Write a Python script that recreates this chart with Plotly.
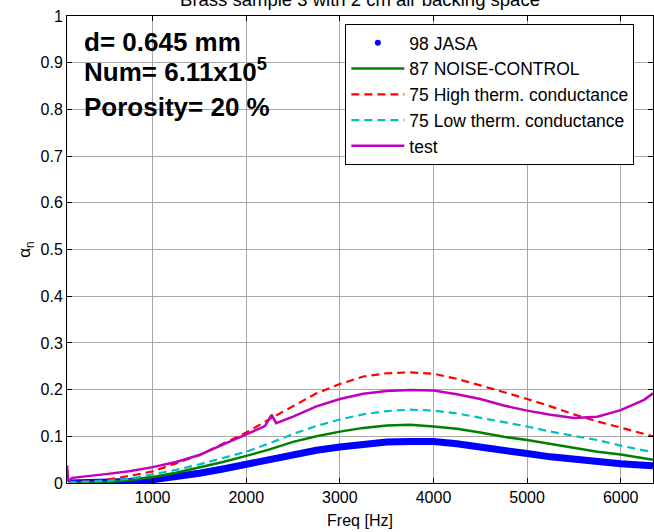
import plotly.graph_objects as go

# Normal-incidence absorption coefficient vs frequency, brass sample 3
freq = [100, 250, 500, 750, 1000, 1250, 1500, 1750, 2000, 2250, 2500, 2750,
        3000, 3250, 3500, 3750, 4000, 4250, 4500, 4750, 5000, 5250, 5500,
        5750, 6000, 6250, 6345]

jasa98 = [0.000, 0.000, 0.001, 0.003, 0.007, 0.013, 0.021, 0.030, 0.040, 0.050,
          0.061, 0.070, 0.077, 0.084, 0.088, 0.089, 0.089, 0.084, 0.076, 0.069,
          0.063, 0.056, 0.050, 0.045, 0.041, 0.038, 0.037]

noise_control87 = [0.000, 0.001, 0.002, 0.006, 0.013, 0.022, 0.033, 0.045, 0.058,
                   0.072, 0.088, 0.100, 0.110, 0.118, 0.123, 0.125, 0.121, 0.116,
                   0.108, 0.099, 0.092, 0.084, 0.075, 0.067, 0.061, 0.053, 0.050]

high_cond75 = [0.000, 0.003, 0.007, 0.015, 0.025, 0.042, 0.060, 0.084, 0.108,
               0.137, 0.165, 0.192, 0.212, 0.228, 0.235, 0.237, 0.234, 0.223,
               0.209, 0.195, 0.180, 0.164, 0.147, 0.132, 0.118, 0.105, 0.100]

low_cond75 = [0.002, 0.003, 0.004, 0.009, 0.018, 0.028, 0.040, 0.053, 0.067,
              0.085, 0.105, 0.122, 0.136, 0.147, 0.154, 0.157, 0.155, 0.149,
              0.140, 0.131, 0.121, 0.110, 0.101, 0.092, 0.080, 0.070, 0.066]

# measured curve (denser near the start-up transient and the 2.27 kHz glitch)
test_freq = [85, 92, 100, 140, 250, 370, 500, 750, 1000, 1250, 1500, 1750, 2000,
             2200, 2270, 2320, 2500, 2750, 3000, 3250, 3500, 3750, 4000, 4250,
             4500, 4750, 5000, 5250, 5500, 5750, 6000, 6250, 6345]
test = [0.038, 0.004, 0.003, 0.011, 0.013, 0.016, 0.019, 0.025, 0.034, 0.045,
        0.060, 0.082, 0.104, 0.122, 0.146, 0.128, 0.142, 0.164, 0.180, 0.191,
        0.197, 0.199, 0.198, 0.190, 0.180, 0.166, 0.155, 0.146, 0.139, 0.142,
        0.156, 0.178, 0.192]

x_ticks = [1000, 2000, 3000, 4000, 5000, 6000]
y_ticks = [0, 0.1, 0.2, 0.3, 0.4, 0.5, 0.6, 0.7, 0.8, 0.9, 1]
y_tick_text = ["0", "0.1", "0.2", "0.3", "0.4", "0.5", "0.6", "0.7", "0.8", "0.9", "1"]

FONT = "Liberation Sans, Arial, sans-serif"

fig = go.Figure()

# 98 JASA is a dense dotted series: a thick band, with a dot in the legend
fig.add_trace(go.Scatter(x=freq, y=jasa98, mode="lines", name="98 JASA",
                         line=dict(color="#0000ff", width=7),
                         legendgroup="jasa", showlegend=False))
fig.add_trace(go.Scatter(x=[None], y=[None], mode="markers", name="98 JASA",
                         marker=dict(color="#0000ff", size=6),
                         legendgroup="jasa"))
fig.add_trace(go.Scatter(x=freq, y=noise_control87, mode="lines",
                         name="87 NOISE-CONTROL",
                         line=dict(color="#008000", width=2.5)))
fig.add_trace(go.Scatter(x=freq, y=high_cond75, mode="lines",
                         name="75 High therm. conductance",
                         line=dict(color="#ff0000", width=2.2, dash="8px,5px")))
fig.add_trace(go.Scatter(x=freq, y=low_cond75, mode="lines",
                         name="75 Low therm. conductance",
                         line=dict(color="#00bfbf", width=2.2, dash="8px,5px")))
fig.add_trace(go.Scatter(x=test_freq, y=test, mode="lines", name="test",
                         line=dict(color="#bf00bf", width=2.5)))

axis_common = dict(
    showline=True, linecolor="black", linewidth=1, mirror="allticks",
    ticks="inside", ticklen=5, tickcolor="black",
    showgrid=True, gridcolor="#a8a8a8", gridwidth=1,
    zeroline=False,
    tickfont=dict(family=FONT, size=16, color="black"),
)

fig.update_xaxes(range=[85, 6345], tickvals=x_ticks,
                 ticktext=[str(v) for v in x_ticks],
                 title=dict(text="Freq [Hz]", font=dict(family=FONT, size=16, color="black"),
                            standoff=9),
                 **axis_common)
fig.update_yaxes(range=[0, 1], tickvals=y_ticks, ticktext=y_tick_text,
                 title=dict(text="α<sub>n</sub>", font=dict(family=FONT, size=17, color="black"),
                            standoff=5),
                 **axis_common)

ann_font = dict(family=FONT, size=26, color="black")
for txt, yy in [("<b>d= 0.645 mm</b>", 0.945),
                ("<b>Num= 6.11x10<sup>5</sup></b>", 0.884),
                ("<b>Porosity= 20 %</b>", 0.806)]:
    fig.add_annotation(text=txt, x=0.026, y=yy, xref="paper", yref="paper",
                       xanchor="left", yanchor="middle", showarrow=False,
                       font=ann_font)

fig.update_layout(
    width=654, height=532,
    margin=dict(l=67, r=1, t=16, b=49),
    paper_bgcolor="white", plot_bgcolor="white",
    title=dict(text="Brass sample 3 with 2 cm air backing space",
               x=0.5, xref="paper", y=1.0, yref="container", yanchor="middle",
               font=dict(family=FONT, size=18.5, color="black")),
    legend=dict(x=0.475, y=0.983, xanchor="left", yanchor="top",
                bgcolor="white", bordercolor="black", borderwidth=1,
                font=dict(family=FONT, size=17.5, color="black"),
                itemwidth=53, tracegroupgap=0),
    showlegend=True,
)

fig.write_html("out.html")
